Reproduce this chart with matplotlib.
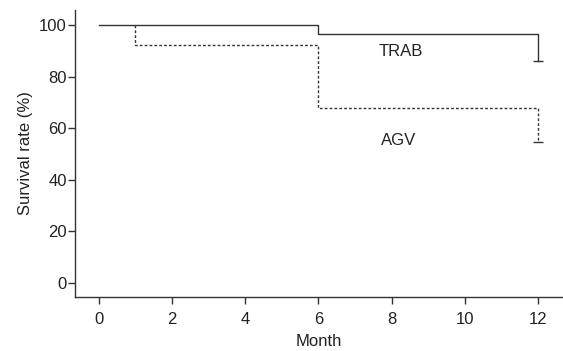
import matplotlib
matplotlib.use("Agg")
import matplotlib.pyplot as plt

plt.rcParams['font.family'] = ['Liberation Sans', 'DejaVu Sans']

trab_t = [0, 6, 6, 12, 12]
trab_s = [100, 100, 96.5, 96.5, 86.2]
agv_t = [1, 1, 6, 6, 12, 12]
agv_s = [100, 92.4, 92.4, 68.0, 68.0, 54.8]
xticks = [0, 2, 4, 6, 8, 10, 12]
yticks = [0, 20, 40, 60, 80, 100]

fig = plt.figure(figsize=(5.63, 3.51), dpi=100)
ax = fig.add_axes([0.1332, 0.1538, 0.865, 0.8177])
c = '#333333'
tc = '#222222'
ax.plot(trab_t, trab_s, color=c, lw=1.0, ls='-')
ax.plot(agv_t, agv_s, color=c, lw=1.0, ls=(0, (2, 1.5)))
ax.plot([12], [trab_s[-1]], marker='_', ms=7, color=c, mew=1.0)
ax.plot([12], [agv_s[-1]], marker='_', ms=7, color=c, mew=1.0)
ax.text(8.25, 89.8, 'TRAB', fontsize=12, color=tc, ha='center', va='center')
ax.text(8.2, 55.4, 'AGV', fontsize=12, color=tc, ha='center', va='center')

ax.set_xlim(-0.65, 12.65)
ax.set_ylim(-5.4, 105.8)
ax.set_xticks(xticks)
ax.set_yticks(yticks)
ax.spines['top'].set_visible(False)
ax.spines['right'].set_visible(False)
for s in ['left', 'bottom']:
    ax.spines[s].set_color(c)
    ax.spines[s].set_linewidth(1.0)
ax.tick_params(direction='out', length=5, width=1.0, color=c, labelcolor=tc, labelsize=12)
ax.tick_params(axis='y', pad=1)
ax.tick_params(axis='x', pad=6)
ax.set_xlabel('Month', fontsize=12, color=tc, labelpad=5)
ax.set_ylabel('Survival rate (%)', fontsize=12, color=tc, labelpad=4)
fig.savefig('out.png', dpi=100)
